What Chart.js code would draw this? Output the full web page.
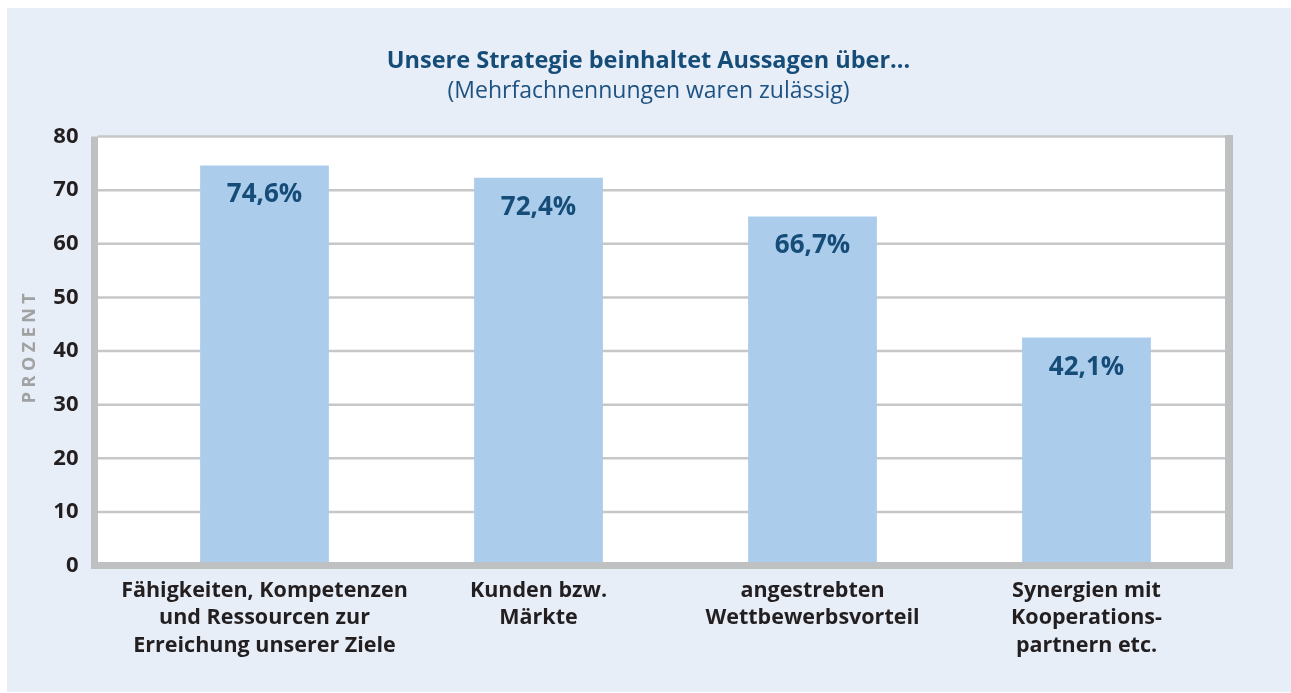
<!DOCTYPE html>
<html>
<head>
<meta charset="utf-8">
<script src="https://cdn.jsdelivr.net/npm/chart.js@4.4.1/dist/chart.umd.min.js"></script>
<style>
  html, body { margin: 0; padding: 0; background: #fff; }
  #wrap { width: 1291px; height: 693px; }
</style>
</head>
<body>
<div id="wrap"><canvas id="chart" width="1291" height="693"></canvas></div>
<script>
// Daten
const categories = [
  ['Fähigkeiten, Kompetenzen', 'und Ressourcen zur', 'Erreichung unserer Ziele'],
  ['Kunden bzw.', 'Märkte'],
  ['angestrebten', 'Wettbewerbsvorteil'],
  ['Synergien mit', 'Kooperations-', 'partnern etc.']
];
const values = [74.6, 72.3, 65.1, 42.5];
const valueLabels = ['74,6%', '72,4%', '66,7%', '42,1%'];
const yMin = 0;
const yMax = 80;
const yStep = 10;

const titleText = 'Unsere Strategie beinhaltet Aussagen über...';
const subtitleText = '(Mehrfachnennungen waren zulässig)';
const axisTitle = 'PROZENT';

const FONT = "'Open Sans', 'DejaVu Sans', sans-serif";
const DARK_BLUE = '#164c78';
const FRAME_GRAY = '#bfc0c2';

// Rahmen, Gitter und Beschriftungen
const framePlugin = {
  id: 'frame',
  beforeDraw(chart) {
    const ctx = chart.ctx;
    ctx.save();
    ctx.fillStyle = '#e7eef8';
    ctx.fillRect(7, 8, chart.width - 7, chart.height - 9);
    ctx.restore();
  },
  beforeDatasetsDraw(chart) {
    const { ctx, chartArea: a, scales: { y } } = chart;
    const left = a.left - 29.5;
    const right = a.right + 1.5;
    ctx.save();
    ctx.fillStyle = '#fff';
    ctx.fillRect(left, a.top, right - left, a.bottom - a.top);
    ctx.strokeStyle = '#c6c7c9';
    ctx.lineWidth = 2.5;
    y.ticks.forEach(t => {
      const py = y.getPixelForValue(t.value);
      ctx.beginPath();
      ctx.moveTo(left, py);
      ctx.lineTo(right, py);
      ctx.stroke();
    });
    ctx.restore();
  },
  afterDatasetsDraw(chart) {
    const { ctx, chartArea: a } = chart;
    const left = a.left - 29.5;
    const right = a.right + 1.5;
    ctx.save();
    // Achsen
    ctx.fillStyle = FRAME_GRAY;
    ctx.fillRect(left - 7, a.top, 7, a.bottom + 3.5 - a.top);
    ctx.fillRect(left - 7, a.bottom - 3.5, right + 8 - (left - 7), 7);
    ctx.fillRect(right, a.top - 1.5, 8, a.bottom + 5 - a.top);

    // Werte in den Balken
    ctx.fillStyle = DARK_BLUE;
    ctx.font = `bold 26px ${FONT}`;
    ctx.textAlign = 'center';
    ctx.textBaseline = 'alphabetic';
    const meta = chart.getDatasetMeta(0);
    meta.data.forEach((bar, i) => {
      ctx.fillText(valueLabels[i], bar.x, bar.y + 37);
    });

    // Achsentitel
    ctx.translate(30, (a.top + a.bottom) / 2);
    ctx.rotate(-Math.PI / 2);
    ctx.fillStyle = '#a0a1a3';
    ctx.font = `bold 18px ${FONT}`;
    ctx.letterSpacing = '4.5px';
    ctx.textAlign = 'center';
    ctx.textBaseline = 'middle';
    ctx.fillText(axisTitle, 5, 0);
    ctx.restore();
  }
};

new Chart(document.getElementById('chart'), {
  type: 'bar',
  data: {
    labels: categories,
    datasets: [{
      data: values,
      backgroundColor: '#abcdeb',
      borderWidth: 0,
      barPercentage: 0.47,
      categoryPercentage: 1
    }]
  },
  options: {
    responsive: false,
    animation: false,
    layout: { padding: { left: 6, right: 0, top: 0, bottom: 0 } },
    plugins: {
      legend: { display: false },
      tooltip: { enabled: false },
      title: {
        display: true,
        text: titleText,
        color: DARK_BLUE,
        font: { family: FONT, size: 23.5, weight: 'bold', lineHeight: 1.2 },
        padding: { top: 47, bottom: 2 }
      },
      subtitle: {
        display: true,
        text: subtitleText,
        color: '#1d5282',
        font: { family: FONT, size: 23, weight: 'normal', lineHeight: 1.2 },
        padding: { top: 0, bottom: 31.7 }
      }
    },
    scales: {
      x: {
        grid: { display: false },
        border: { display: false },
        ticks: {
          color: '#231f20',
          font: { family: FONT, size: 21.5, weight: 'bold', lineHeight: 1.28 },
          padding: 3.5,
          maxRotation: 0,
          autoSkip: false
        },
        afterFit(scale) { scale.height = 127.5; }
      },
      y: {
        min: yMin,
        max: yMax,
        grid: { display: false },
        border: { display: false },
        ticks: {
          stepSize: yStep,
          color: '#231f20',
          font: { family: FONT, size: 22, weight: 'bold' },
          padding: 41
        },
        afterFit(scale) { scale.width = 121.5; }
      },
      // leerer Rand rechts
      yRight: {
        position: 'right',
        min: yMin,
        max: yMax,
        grid: { display: false },
        border: { display: false },
        ticks: { display: false },
        afterFit(scale) { scale.width = 67.5; }
      }
    }
  },
  plugins: [framePlugin]
});
</script>
</body>
</html>
